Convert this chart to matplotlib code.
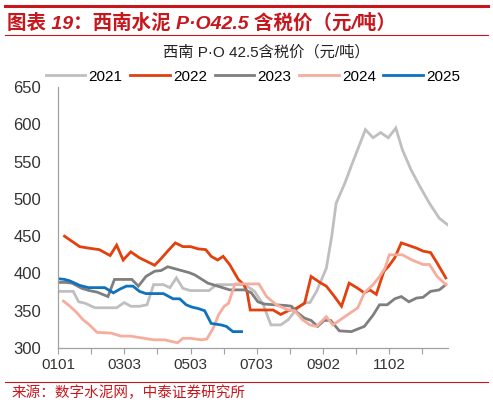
import matplotlib

matplotlib.use("Agg")
import matplotlib.pyplot as plt
from matplotlib.lines import Line2D

plt.rcParams["font.family"] = ["Liberation Sans", "Noto Sans CJK SC", "DejaVu Sans"]

# 各年份周度数据：横轴为年内第几天
days_2021 = [0, 7, 14, 19, 25, 34, 41, 48, 54, 61, 67, 75, 82, 88, 97, 103, 109, 115, 122, 132, 139, 146,
             160, 172, 181, 189, 196, 205, 212, 219, 227, 232, 238, 247, 252, 256, 264, 271, 283, 290,
             297, 304, 311, 317, 325, 333, 342, 351, 359]
price_2021 = [376, 376, 376, 362, 360, 354, 354, 354, 354, 361, 356, 356, 358, 385, 385, 381, 394, 380, 377,
              377, 377, 385, 385, 385, 376, 358, 331, 331, 338, 351, 361, 361, 376, 407, 450, 494, 521, 548,
              593, 582, 589, 582, 595, 566, 539, 517, 494, 474, 465]

days_2022 = [6, 13, 20, 28, 38, 48, 54, 60, 67, 75, 82, 89, 95, 101, 108, 115, 122, 129, 136, 141, 147, 152,
             158, 166, 171, 174, 177, 190, 198, 205, 212, 219, 227, 233, 238, 241, 247, 254, 261, 268, 275,
             282, 287, 293, 300, 304, 310, 316, 322, 330, 336, 343, 349, 357]
price_2022 = [450, 443, 436, 434, 432, 424, 438, 418, 429, 421, 416, 411, 420, 430, 441, 436, 436, 433, 432,
              423, 418, 423, 412, 392, 385, 376, 351, 351, 351, 345, 350, 353, 360, 396, 391, 388, 383, 370,
              356, 387, 381, 374, 378, 372, 403, 409, 421, 441, 438, 434, 430, 428, 414, 394]

days_2023 = [0, 7, 13, 22, 29, 36, 46, 52, 60, 68, 74, 81, 89, 95, 101, 111, 121, 126, 138, 147, 158, 172,
             178, 184, 190, 199, 210, 215, 219, 227, 233, 239, 245, 251, 259, 270, 282, 290, 296, 303, 310,
             316, 323, 330, 336, 343, 351, 357]
price_2023 = [388, 388, 387, 380, 377, 375, 369, 392, 392, 392, 383, 396, 403, 404, 409, 405, 401, 398, 387,
              383, 378, 378, 374, 362, 359, 358, 357, 356, 349, 340, 337, 329, 337, 337, 323, 322, 329, 344,
              358, 358, 366, 369, 362, 367, 368, 376, 378, 385]

days_2024 = [5, 11, 17, 23, 29, 36, 49, 58, 67, 75, 88, 98, 104, 110, 115, 122, 132, 137, 143, 148, 153, 157,
             163, 172, 185, 192, 201, 212, 218, 225, 232, 238, 247, 253, 262, 269, 276, 282, 290, 296, 301,
             305, 317, 326, 336, 342, 349, 357]
price_2024 = [363, 356, 348, 338, 331, 321, 320, 316, 316, 314, 311, 311, 309, 307, 313, 313, 311, 312, 327,
              345, 356, 360, 386, 386, 386, 369, 358, 351, 350, 338, 331, 329, 342, 331, 340, 347, 354, 374,
              385, 396, 407, 425, 425, 418, 412, 412, 396, 385]

days_2025 = [0, 6, 11, 20, 28, 36, 43, 51, 57, 63, 69, 75, 81, 89, 97, 106, 112, 118, 123, 129, 135, 141,
             150, 155, 161, 169]
price_2025 = [393, 392, 390, 384, 381, 381, 381, 374, 379, 383, 383, 376, 373, 373, 373, 366, 366, 358, 355,
              353, 350, 333, 331, 329, 322, 322]

years = ["2021", "2022", "2023", "2024", "2025"]
colors = ["#BFBFBF", "#E2400C", "#7F7F7F", "#F7AD9E", "#0D72C0"]
series = [(days_2021, price_2021), (days_2022, price_2022), (days_2023, price_2023),
          (days_2024, price_2024), (days_2025, price_2025)]

tick_labels = ["0101", "", "0303", "", "0503", "", "0703", "", "0902", "", "1102", ""]
tick_days = [30.5 * i for i in range(len(tick_labels))]

RED = "#C8161D"
CJK = ["Noto Sans CJK SC", "DejaVu Sans"]
MIXED = ["Liberation Sans", "Noto Sans CJK SC", "DejaVu Sans"]

fig = plt.figure(figsize=(4.93, 4.05), dpi=100)

# 顶部红线、标题、分隔线
fig.add_artist(Line2D([0.01, 0.99], [0.986, 0.986], color=RED, lw=2.2))
fig.text(0.014, 0.944, "图表 19：西南水泥 P·O42.5 含税价（元/吨）", color=RED, fontsize=14,
         fontweight="bold", style="italic", ha="left", va="center", family=MIXED)
fig.add_artist(Line2D([0.01, 0.99], [0.914, 0.914], color=RED, lw=0.8))

fig.text(0.54, 0.871, "西南 P·O 42.5含税价（元/吨）", fontsize=11, ha="center", va="center",
         color="#222222", family=MIXED)

ax = fig.add_axes([0.1176, 0.1407, 0.7911, 0.6443])
for (d, p), c, y in zip(series, colors, years):
    ax.plot(d, p, color=c, lw=2.0, label=y, solid_joinstyle="miter")

ax.set_ylim(300, 650)
ax.set_yticks(range(300, 651, 50))
ax.set_xlim(0, 359)
ax.set_xticks(tick_days)
ax.set_xticklabels(tick_labels)
ax.tick_params(axis="y", length=0, labelsize=12, colors="#333333", pad=12)
ax.tick_params(axis="x", length=4, direction="out", color="#A0A0A0", labelsize=11,
               labelcolor="#333333", pad=3)
for side in ["top", "right"]:
    ax.spines[side].set_visible(False)
for side in ["left", "bottom"]:
    ax.spines[side].set_color("#A0A0A0")
    ax.spines[side].set_linewidth(0.9)

ax.legend(loc="lower center", bbox_to_anchor=(0.5, 0.99), ncol=5, frameon=False, fontsize=11,
          handlelength=2.6, handletextpad=0.2, columnspacing=0.5, borderaxespad=0.0)

# 底部来源
fig.add_artist(Line2D([0.01, 0.99], [0.058, 0.058], color=RED, lw=0.8))
fig.text(0.024, 0.029, "来源：数字水泥网，中泰证券研究所", color=RED, fontsize=10.5, ha="left",
         va="center", family=CJK)

fig.savefig("out.png", dpi=100)
